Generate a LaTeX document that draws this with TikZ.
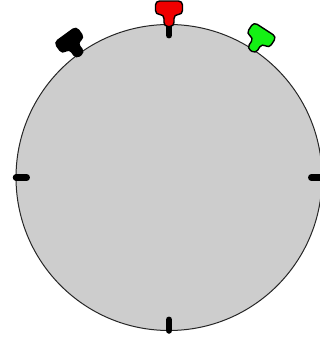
\documentclass[tikz,border=0pt]{standalone}
\usepackage{tikz}
\usetikzlibrary{calc}
\usepackage{xcolor}
\definecolor{DialGray}{RGB}{205,205,205}
\definecolor{PinRed}{RGB}{240,0,0}
\definecolor{PinGreen}{RGB}{20,240,20}
\tikzset{
  dial/.style={circle, draw=black!85, fill=DialGray, line width=1pt,
    minimum size=306pt, inner sep=0pt, outer sep=0pt},
  hourtick/.style={line width=6.5pt, line cap=round, black},
  pinmark/.pic={
    \draw[rounded corners=4pt, line width=1.4pt, pic actions]
      (-5,-2) -- (-5,10) -- (-13.5,10) -- (-13.5,23.5) -- (13.5,23.5)
      -- (13.5,10) -- (5,10) -- (5,-2) -- cycle;
  }
}

\begin{document}
\begin{tikzpicture}[x=1pt, y=1pt]
  \useasboundingbox (-169,-160.5) rectangle (151,177.5);
  \node[dial] (dial) at (0,0) {};
  % hour ticks
  \foreach \a in {0,90,180,270}
    \draw[hourtick] (dial.\a) -- ($(dial.center)!0.93!(dial.\a)$);
  % pins
  \pic[rotate=36, fill=black, draw=black] at (dial.126) {pinmark};
  \pic[rotate=0, fill=PinRed, draw=black] at (dial.90) {pinmark};
  \pic[rotate=-33, fill=PinGreen, draw=black] at (dial.57) {pinmark};
\end{tikzpicture}
\end{document}
